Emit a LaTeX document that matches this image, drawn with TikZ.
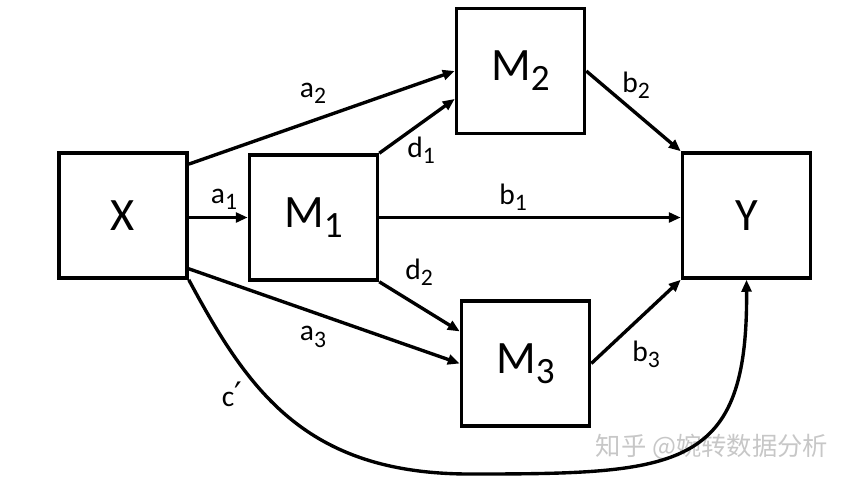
\documentclass[tikz,border=0pt]{standalone}
\usepackage{fontspec}
\setmainfont{Carlito}
\newfontfamily\cjkfont{Noto Sans CJK SC}
\newfontfamily\symfont{DejaVu Sans}
\usepackage{tikz}
\usetikzlibrary{arrows.meta}
\usepackage{xcolor}

\newcommand\lsub[1]{\raisebox{-0.45ex}{\scalebox{0.8}{#1}}}

\begin{document}
\begin{tikzpicture}[x=0.025cm,y=-0.025cm,>={Triangle[length=8.5pt,width=7pt]},
	var/.style={draw,line width=2.5pt,minimum width=3.2cm,minimum height=3.125cm,inner sep=0pt,font=\fontsize{33}{33}\selectfont},
	path/.style={->,line width=2.4pt},
	coef/.style={font=\fontsize{21}{21}\selectfont,inner sep=0pt}]
	
	\useasboundingbox (0,0) rectangle (848,483);
	
	%--- variables ---
	\node[var] (X)  at (123,215.5) {X};
	\node[var] (M1) at (313.5,217.5) {M\lsub{1}};
	\node[var] (M2) at (520.5,71) {M\lsub{2}};
	\node[var] (M3) at (525.5,363.5) {M\lsub{3}};
	\node[var] (Y)  at (746.5,215.5) {Y};
	
	% watermark
	\node[text=black!22,font=\cjkfont\fontsize{18}{18}\selectfont] (mark) at (712,447) {知乎 @婉转数据分析};
	
	%--- paths from X ---
	\draw[path] (M1.west -| X.east) -- (M1.west);
	\draw[path] (X.38) -- (M2.west);
	\draw[path] (X.-39) -- (M3.west);
	
	%--- paths from M1 ---
	\draw[path] (M1.north east) -- (M2.203);
	\draw[path] (M1.east) -- (M1.east -| Y.west);
	\draw[path] (M1.south east) -- (M3.154);
	
	%--- paths into Y ---
	\draw[path] (M2.east) -- (Y.north west);
	\draw[path] (M3.east) -- (Y.south west);
	
	% direct effect c'
	\coordinate (cbot) at (470,474);
	\draw[path] (X.south east) .. controls (248,390) and (305,474) .. (cbot)
		.. controls (680,474) and (748,470) .. (Y.south);
	
	%--- coefficients ---
	\node[coef] (la1) at (224,199) {a\lsub{1}};
	\node[coef] (la2) at (313,93) {a\lsub{2}};
	\node[coef] (la3) at (313,337) {a\lsub{3}};
	\node[coef] (ld1) at (421,150) {d\lsub{1}};
	\node[coef] (ld2) at (419,272) {d\lsub{2}};
	\node[coef] (lb1) at (513,197) {b\lsub{1}};
	\node[coef] (lb2) at (636,85) {b\lsub{2}};
	\node[coef] (lb3) at (646,354) {b\lsub{3}};
	\node[coef] (lc)  at (232,394) {c{\symfont\fontsize{24}{24}\selectfont ′}};
	
\end{tikzpicture}
\end{document}
